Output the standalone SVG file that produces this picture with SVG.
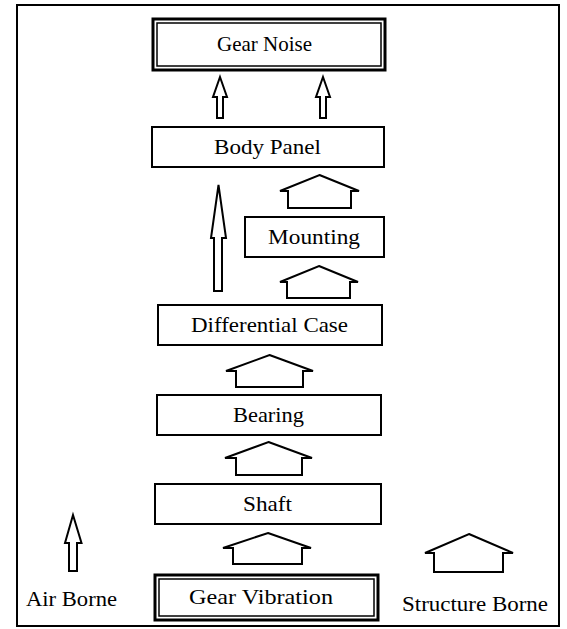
<svg xmlns="http://www.w3.org/2000/svg" width="567" height="629" viewBox="0 0 567 629">
<defs>
<style>
.box{fill:#fff;stroke:#000;stroke-width:2}
.outer{fill:#fff;stroke:#000;stroke-width:3}
.inner{fill:none;stroke:#000;stroke-width:1.5}
.arr{fill:#fff;stroke:#000;stroke-width:2;stroke-linejoin:miter}
text{font-family:"Liberation Serif","Times New Roman",serif;font-size:22px;fill:#000}
.c{text-anchor:middle}
</style>
</defs>
<rect x="0" y="0" width="567" height="629" fill="#fff"/>
<rect x="17" y="5" width="542" height="621" fill="none" stroke="#000" stroke-width="2"/>

<g id="gear-noise">
<rect class="outer" x="153" y="19" width="232" height="51"/>
<rect class="inner" x="157" y="23" width="224" height="43"/>
<text class="c" x="264.5" y="51" textLength="95" lengthAdjust="spacingAndGlyphs">Gear Noise</text>
</g>
<g id="body-panel">
<rect class="box" x="152" y="127" width="232" height="40"/>
<text class="c" x="267.5" y="154" textLength="107" lengthAdjust="spacingAndGlyphs">Body Panel</text>
</g>
<g id="mounting">
<rect class="box" x="245" y="217" width="139" height="40"/>
<text class="c" x="314" y="244" textLength="92" lengthAdjust="spacingAndGlyphs">Mounting</text>
</g>
<g id="differential-case">
<rect class="box" x="158" y="305" width="224" height="40"/>
<text class="c" x="269.5" y="332" textLength="157" lengthAdjust="spacingAndGlyphs">Differential Case</text>
</g>
<g id="bearing">
<rect class="box" x="157" y="395" width="224" height="40"/>
<text class="c" x="268.5" y="422" textLength="71" lengthAdjust="spacingAndGlyphs">Bearing</text>
</g>
<g id="shaft">
<rect class="box" x="155" y="484" width="226" height="40"/>
<text class="c" x="267.5" y="511" textLength="49" lengthAdjust="spacingAndGlyphs">Shaft</text>
</g>
<g id="gear-vibration">
<rect class="outer" x="155" y="575" width="223" height="45"/>
<rect class="inner" x="159" y="579" width="215" height="37"/>
<text class="c" x="261" y="604" textLength="144" lengthAdjust="spacingAndGlyphs">Gear Vibration</text>
</g>
<g id="legend-air">
<text x="26" y="606" textLength="91" lengthAdjust="spacingAndGlyphs">Air Borne</text>
</g>
<g id="legend-structure">
<text x="402" y="611" textLength="146" lengthAdjust="spacingAndGlyphs">Structure Borne</text>
</g>

<g id="connectors">
<path class="arr" d="M220,77 L227,97 L223,97 L223,118 L217,118 L217,97 L213,97 Z"/>
<path class="arr" d="M323,77 L330,97 L326,97 L326,118 L320,118 L320,97 L316,97 Z"/>
<path class="arr" d="M218.5,185 L226,238 L222,238 L222,291 L214,291 L214,238 L211,238 Z"/>
<path class="arr" d="M73,515 L81.5,543 L77,543 L77,571 L69,571 L69,543 L65,543 Z"/>
<path class="arr" d="M319.5,175 L359,191 L351,191 L351,208 L288,208 L288,191 L280,191 Z"/>
<path class="arr" d="M319,266 L358,282 L350,282 L350,298 L287,298 L287,282 L280,282 Z"/>
<path class="arr" d="M269.5,355 L313,371 L303,371 L303,387 L236,387 L236,371 L226,371 Z"/>
<path class="arr" d="M268.5,442 L312,458 L302,458 L302,475 L236,475 L236,458 L225,458 Z"/>
<path class="arr" d="M268,533 L311,548 L302,548 L302,564 L233,564 L233,548 L223,548 Z"/>
<path class="arr" d="M469,534 L513,553 L503,553 L503,572 L434,572 L434,553 L425,553 Z"/>
</g>
</svg>
